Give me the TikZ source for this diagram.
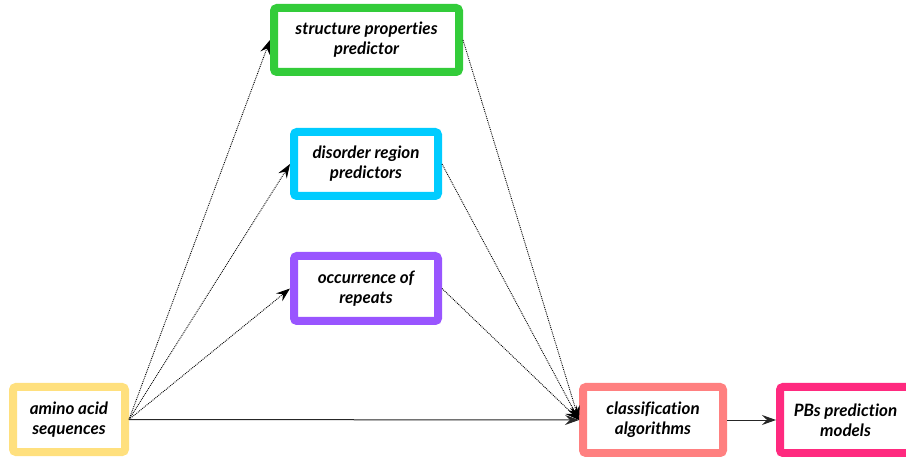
\documentclass[tikz,border=0pt]{standalone}
\usepackage{fontspec}
\setmainfont{Lato}[Ligatures=NoCommon]
\usetikzlibrary{arrows.meta}

\definecolor{cgreen}{HTML}{33CC3A}
\definecolor{cblue}{HTML}{00CCFF}
\definecolor{cpurple}{HTML}{9955FF}
\definecolor{cyellow}{HTML}{FFE07E}
\definecolor{csalmon}{HTML}{FF8080}
\definecolor{cpink}{HTML}{FF2A7F}

\tikzset{
  stage/.style={draw=#1, line width=8pt, rounded corners=3pt, fill=white,
    align=center, inner sep=0pt,
    font=\fontsize{17}{20}\selectfont\bfseries\itshape},
  tip/.style={-{Stealth[length=14pt,width=10pt,inset=5pt]}},
  feed/.style={tip, densely dotted, line width=0.9pt},
  flow/.style={tip, line width=1pt, draw=black!85}
}

\begin{document}
\begin{tikzpicture}[x=1pt,y=-1pt]
\useasboundingbox (0,0) rectangle (906,457);

\node[stage=cgreen,  minimum width=185pt, minimum height=64pt] (sp)  at (366.5,40)  {structure properties\\predictor};
\node[stage=cblue,   minimum width=144pt, minimum height=64pt] (dr)  at (366,164)   {disorder region\\predictors};
\node[stage=cpurple, minimum width=144pt, minimum height=65pt] (rep) at (366,288.5) {occurrence of\\repeats};
\node[stage=cyellow, minimum width=112pt, minimum height=65pt] (aa)  at (69,419.5)  {amino acid\\sequences};
\node[stage=csalmon, minimum width=140pt, minimum height=66pt] (cls) at (653,420)   {classification\\algorithms};
\node[stage=cpink,   minimum width=131pt, minimum height=66pt] (pb)  at (845.5,420) {PBs prediction\\models};

% sequence features
\draw[feed] (aa.east) -- (sp.west);
\draw[feed] (aa.east) -- (dr.west);
\draw[feed] (aa.east) -- (rep.west);

% features into the classifier
\draw[feed] (sp.east)  -- (cls.west);
\draw[feed] (dr.east)  -- (cls.west);
\draw[feed] (rep.east) -- (cls.west);
\draw[flow] (aa.east)  -- (cls.west);

\draw[flow] (cls.east) -- (pb.west);
\end{tikzpicture}
\end{document}
